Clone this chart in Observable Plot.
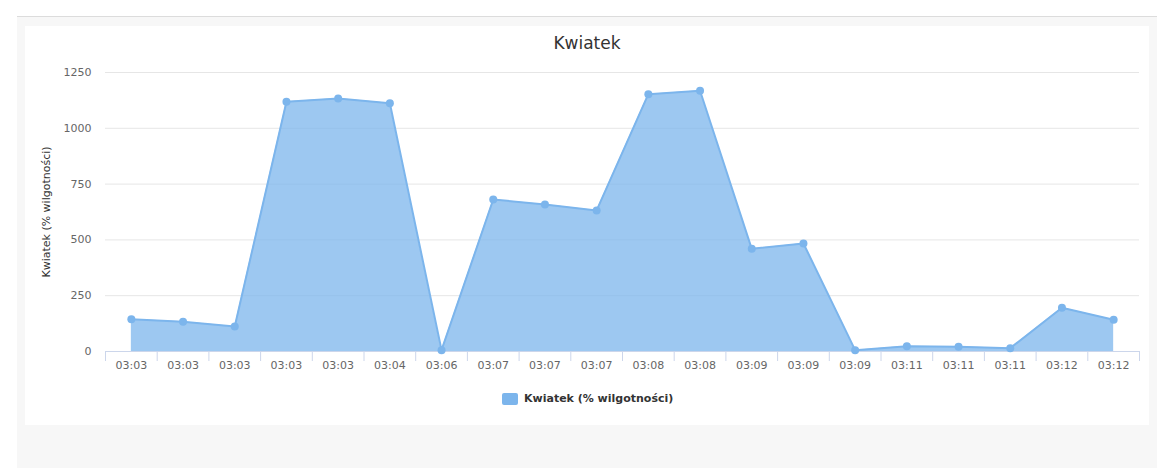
<!DOCTYPE html>
<html>
<head>
<meta charset="utf-8">
<script src="https://cdn.jsdelivr.net/npm/d3@7"></script>
<script src="https://cdn.jsdelivr.net/npm/@observablehq/plot@0.6"></script>
<style>
  html, body { margin: 0; padding: 0; background: #ffffff; width: 1171px; height: 468px; overflow: hidden; font-family: "DejaVu Sans", sans-serif; }
  #panel { position: absolute; left: 17px; top: 16px; width: 1140px; height: 452px; background: #f7f7f7; border-top: 1px solid #dcdcdc; box-sizing: border-box; }
  #card { position: absolute; left: 25px; top: 26px; width: 1124px; height: 399px; background: #ffffff; }
  #title { position: absolute; left: 0; width: 1124px; top: 7px; text-align: center; font-size: 17px; color: #333333; line-height: 20px; }
  #chart { position: absolute; left: 0; top: 0; }
  #legend { position: absolute; left: 477px; top: 366px; display: flex; align-items: center; font-size: 11px; font-weight: bold; color: #333333; }
  #legend .sw { width: 16px; height: 12px; background: #7cb5ec; border-radius: 2px; margin-right: 6px; }
</style>
</head>
<body>
<div id="panel"></div>
<div id="card">
  <div id="chart"></div>
  <div id="title"></div>
  <div id="legend"><span class="sw"></span><span id="legtext"></span></div>
</div>
<script>
const chartTitle = "Kwiatek";
const seriesName = "Kwiatek (% wilgotności)";
const yAxisTitle = "Kwiatek (% wilgotności)";
const categories = ["03:03","03:03","03:03","03:03","03:03","03:04","03:06","03:07","03:07","03:07","03:08","03:08","03:09","03:09","03:09","03:11","03:11","03:11","03:12","03:12"];
const values = [145, 133, 112, 1119, 1133, 1112, 6, 681, 659, 632, 1153, 1168, 460, 484, 6, 24, 21, 15, 196, 142];
const yTicks = [0, 250, 500, 750, 1000, 1250];

document.getElementById("title").textContent = chartTitle;
document.getElementById("legtext").textContent = seriesName;

const data = values.map((v, i) => ({i, v, label: categories[i]}));
const idx = categories.map((_, i) => i);
const bounds = d3.range(categories.length + 1).map(i => i - 0.5);
const color = "#7cb5ec";

const plot = Plot.plot({
  width: 1124,
  height: 355,
  marginTop: 46,
  marginBottom: 30,
  marginLeft: 80,
  marginRight: 10,
  style: { background: "transparent", fontFamily: "DejaVu Sans, sans-serif", fontSize: "11px", color: "#666666" },
  x: { type: "linear", domain: [-0.5, categories.length - 0.5] },
  y: { domain: [0, 1250] },
  marks: [
    Plot.gridY(yTicks.slice(1), { stroke: "#e6e6e6", strokeOpacity: 1, strokeWidth: 1 }),
    Plot.areaY(data, { x: "i", y: "v", fill: color, fillOpacity: 0.75 }),
    Plot.lineY(data, { x: "i", y: "v", stroke: color, strokeWidth: 2 }),
    Plot.ruleY([0], { stroke: "#ccd6eb", strokeWidth: 1 }),
    Plot.dot(data, { x: "i", y: "v", r: 4, fill: color }),
    Plot.axisY(yTicks, { tickSize: 0, tickPadding: 14, tickFormat: d => String(d), fill: "#666666", fontSize: 11, label: null }),
    Plot.axisX(bounds, { tickSize: 10, stroke: "#ccd6eb", tickFormat: () => "", label: null }),
    Plot.axisX(idx, { tickSize: 0, tickPadding: 10, tickFormat: i => categories[i], fill: "#666666", fontSize: 11, label: null }),
    Plot.text([yAxisTitle], { frameAnchor: "left", dx: -59, rotate: -90, textAnchor: "middle", text: d => d, fill: "#333333", fontSize: 11 })
  ]
});
document.getElementById("chart").appendChild(plot);
</script>
</body>
</html>
